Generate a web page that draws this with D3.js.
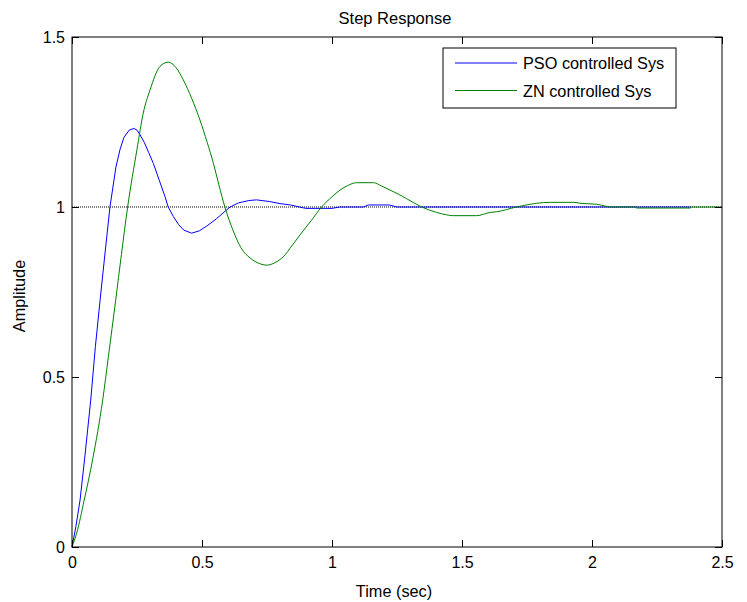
<!DOCTYPE html>
<html>
<head>
<meta charset="utf-8">
<script src="https://cdn.jsdelivr.net/npm/d3@7"></script>
<style>
  body { margin: 0; background: #fff; }
  text { font-family: "Liberation Sans", Arial, sans-serif; fill: #000; }
</style>
</head>
<body>
<div id="chart"></div>
<script>
// data: time (sec) and amplitude for each response
const psoTime = [0, 0.015, 0.031, 0.05, 0.072, 0.09, 0.108, 0.125, 0.146, 0.169, 0.185, 0.2, 0.22, 0.238, 0.25,
  0.262, 0.278, 0.295, 0.313, 0.335, 0.358, 0.37, 0.39, 0.41, 0.43, 0.46, 0.49, 0.52, 0.555, 0.585, 0.608,
  0.64, 0.68, 0.71, 0.76, 0.8, 0.84, 0.88, 0.9, 1.0, 1.03, 1.12, 1.14, 1.22, 1.25, 2.38]
const psoAmp = [0, 0.06, 0.138, 0.27, 0.432, 0.59, 0.726, 0.85, 1.0, 1.118, 1.17, 1.205, 1.226, 1.231, 1.226,
  1.212, 1.19, 1.16, 1.128, 1.08, 1.03, 1.0, 0.972, 0.948, 0.932, 0.923, 0.93, 0.945, 0.965, 0.985, 1.0,
  1.012, 1.019, 1.021, 1.016, 1.01, 1.006, 0.999, 0.996, 0.996, 1.0, 1.0, 1.006, 1.006, 1.0, 1.0]

const znTime = [0, 0.018, 0.047, 0.08, 0.118, 0.14, 0.168, 0.19, 0.214, 0.25, 0.274, 0.3,
  0.338, 0.37, 0.4, 0.428, 0.46, 0.492, 0.52, 0.544, 0.565, 0.588, 0.62, 0.65, 0.685, 0.72, 0.749,
  0.78, 0.813, 0.845, 0.877, 0.92, 0.96, 1.0, 1.031, 1.06, 1.095, 1.16, 1.19, 1.223, 1.255, 1.287, 1.345,
  1.403, 1.44, 1.465, 1.556, 1.608, 1.633, 1.71, 1.787, 1.84, 1.93, 1.954, 2.018, 2.076, 2.165, 2.172,
  2.377, 2.384, 2.5]
const znAmp = [0, 0.041, 0.138, 0.26, 0.432, 0.56, 0.726, 0.86, 1.0, 1.17, 1.276, 1.344,
  1.413, 1.426, 1.41, 1.374, 1.32, 1.256, 1.19, 1.128, 1.065, 1.0, 0.93, 0.88, 0.85, 0.834, 0.829,
  0.836, 0.854, 0.885, 0.918, 0.96, 1.0, 1.03, 1.05, 1.063, 1.0715, 1.0715, 1.062, 1.05, 1.038, 1.0245, 1.0,
  0.984, 0.977, 0.9745, 0.9745, 0.984, 0.986, 1.0, 1.011, 1.0137, 1.0137, 1.011, 1.008, 1.0, 1.0, 0.997,
  0.997, 1.0, 1.0]

const seriesNames = ["PSO controlled Sys", "ZN controlled Sys"]
const seriesColors = ["#0000ff", "#008000"]
const steadyState = 1

const xTicks = [0, 0.5, 1, 1.5, 2, 2.5]
const xTickLabels = ["0", "0.5", "1", "1.5", "2", "2.5"]
const yTicks = [0, 0.5, 1, 1.5]
const yTickLabels = ["0", "0.5", "1", "1.5"]

// layout
const width = 747
const height = 602
const margin = {left: 72, right: 25, top: 37, bottom: 55}
const plotW = width - margin.left - margin.right
const plotH = height - margin.top - margin.bottom

const svg = d3.select("#chart").append("svg")
  .attr("width", width)
  .attr("height", height)

const x = d3.scaleLinear().domain([0, 2.5]).range([0, plotW])
const y = d3.scaleLinear().domain([0, 1.5]).range([plotH, 0])

const g = svg.append("g").attr("transform", `translate(${margin.left},${margin.top})`)

// steady state reference line (dotted)
g.append("line")
  .attr("x1", x(0)).attr("x2", x(2.5))
  .attr("y1", y(steadyState)).attr("y2", y(steadyState))
  .attr("stroke", "#000")
  .attr("stroke-width", 1)
  .attr("stroke-dasharray", "1,1")

// blue one is a bit jagged in the picture, green one smooth
const curves = [d3.curveLinear, d3.curveMonotoneX]
const series = [
  d3.zip(psoTime, psoAmp),
  d3.zip(znTime, znAmp)
]
series.forEach((s, i) => {
  const line = d3.line().x(d => x(d[0])).y(d => y(d[1])).curve(curves[i])
  g.append("path")
    .datum(s)
    .attr("d", line)
    .attr("fill", "none")
    .attr("stroke", seriesColors[i])
    .attr("stroke-width", 1)
})

// axes, ticks pointing inward on all four sides
const tickLen = 7
const styleAxis = sel => {
  sel.select(".domain").remove()
  sel.selectAll(".tick line").attr("stroke", "#000")
  sel.selectAll("text").attr("font-size", 16).attr("font-family", "Liberation Sans, Arial, sans-serif").attr("fill", "#000")
}
g.append("g").attr("transform", `translate(0,${plotH})`)
  .call(d3.axisBottom(x).tickValues(xTicks).tickSize(-tickLen).tickPadding(10).tickFormat((d, i) => xTickLabels[i]))
  .call(styleAxis)
g.append("g")
  .call(d3.axisTop(x).tickValues(xTicks).tickSize(-tickLen).tickFormat(""))
  .call(styleAxis)
g.append("g")
  .call(d3.axisLeft(y).tickValues(yTicks).tickSize(-tickLen).tickPadding(7).tickFormat((d, i) => yTickLabels[i]))
  .call(styleAxis)
g.append("g").attr("transform", `translate(${plotW},0)`)
  .call(d3.axisRight(y).tickValues(yTicks).tickSize(-tickLen).tickFormat(""))
  .call(styleAxis)

// frame
g.append("rect")
  .attr("x", 0).attr("y", 0)
  .attr("width", plotW).attr("height", plotH)
  .attr("fill", "none")
  .attr("stroke", "#000")
  .attr("stroke-width", 1)

// title and axis labels
svg.append("text")
  .attr("x", 395).attr("y", 24)
  .attr("text-anchor", "middle").attr("font-size", 16.5)
  .text("Step Response")
svg.append("text")
  .attr("x", 394).attr("y", 597)
  .attr("text-anchor", "middle").attr("font-size", 16.3)
  .text("Time (sec)")
svg.append("text")
  .attr("transform", `translate(25,${margin.top + plotH / 2 + 4}) rotate(-90)`)
  .attr("text-anchor", "middle").attr("font-size", 16.3)
  .text("Amplitude")

// legend
const legend = svg.append("g").attr("transform", "translate(443,48)")
legend.append("rect")
  .attr("width", 233).attr("height", 60)
  .attr("fill", "#fff").attr("stroke", "#000").attr("stroke-width", 1)
seriesNames.forEach((name, i) => {
  const cy = 15 + i * 27.5
  legend.append("line")
    .attr("x1", 12).attr("x2", 74).attr("y1", cy).attr("y2", cy)
    .attr("stroke", seriesColors[i]).attr("stroke-width", 1)
  legend.append("text")
    .attr("x", 80).attr("y", cy + 6)
    .attr("font-size", 16.3)
    .text(name)
})
</script>
</body>
</html>
